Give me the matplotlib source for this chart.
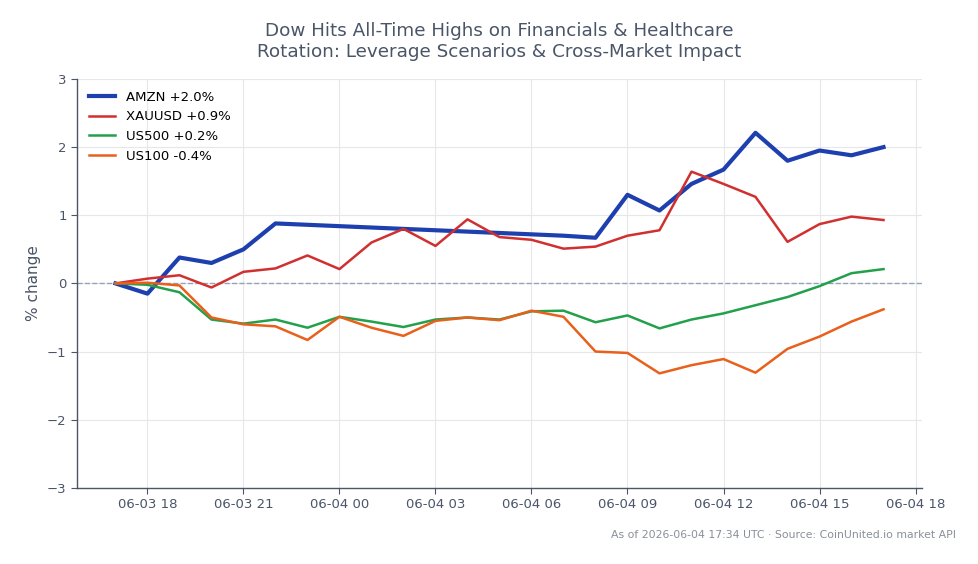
import matplotlib
matplotlib.use("Agg")
import matplotlib.pyplot as plt
import matplotlib.dates as mdates
import numpy as np
import pandas as pd

times = pd.date_range("2026-06-03 17:00", "2026-06-04 17:00", freq="h")

amzn = [0.00, -0.15, 0.38, 0.30, 0.50, 0.88, 0.86, 0.84, 0.82, 0.80, 0.78, 0.76,
        0.74, 0.72, 0.70, 0.67, 1.30, 1.07, 1.46, 1.67, 2.21, 1.80, 1.95, 1.88, 2.00]
xauusd = [0.00, 0.07, 0.12, -0.06, 0.17, 0.22, 0.41, 0.21, 0.60, 0.80, 0.55, 0.94,
          0.68, 0.64, 0.51, 0.54, 0.70, 0.78, 1.64, 1.46, 1.27, 0.61, 0.87, 0.98, 0.93]
us500 = [0.00, -0.02, -0.13, -0.53, -0.59, -0.53, -0.65, -0.49, -0.56, -0.64, -0.53, -0.50,
         -0.53, -0.41, -0.40, -0.57, -0.47, -0.66, -0.53, -0.44, -0.32, -0.20, -0.04, 0.15, 0.21]
us100 = [0.00, 0.01, -0.03, -0.50, -0.60, -0.63, -0.83, -0.49, -0.65, -0.77, -0.55, -0.50,
         -0.54, -0.40, -0.49, -1.00, -1.02, -1.32, -1.20, -1.11, -1.31, -0.96, -0.78, -0.56, -0.38]

labels = ["AMZN +2.0%", "XAUUSD +0.9%", "US500 +0.2%", "US100 -0.4%"]
colors = ["#1e40af", "#d0302f", "#22a04b", "#e8601c"]
widths = [3.0, 1.8, 1.8, 1.8]

fig = plt.figure(figsize=(9.79, 5.64), dpi=100)
ax = fig.add_axes([0.0787, 0.135, 0.863, 0.725])

ax.axhline(0, color="#94a3b8", lw=1, ls="--", zorder=1.5)

for s, lab, c, w in zip([amzn, xauusd, us500, us100], labels, colors, widths):
    ax.plot(times, s, color=c, lw=w, label=lab, zorder=2)

ax.set_ylim(-3, 3)
ax.set_yticks([-3, -2, -1, 0, 1, 2, 3])
ax.set_yticklabels(["\u22123", "\u22122", "\u22121", "0", "1", "2", "3"])
ax.xaxis.set_major_locator(mdates.HourLocator(byhour=[0, 3, 6, 9, 12, 15, 18, 21]))
ax.xaxis.set_major_formatter(mdates.DateFormatter("%m-%d %H"))
ax.margins(x=0.05)

ax.grid(True, color="#e5e7eb", lw=0.8, zorder=0)
ax.set_axisbelow(True)
for sp in ["top", "right"]:
    ax.spines[sp].set_visible(False)
for sp in ["left", "bottom"]:
    ax.spines[sp].set_color("#4a5568")
    ax.spines[sp].set_linewidth(1.0)
ax.tick_params(colors="#4a5568", labelsize=9.5, length=4)
ax.set_ylabel("% change", color="#4a5568", fontsize=11)

ax.set_title("Dow Hits All-Time Highs on Financials & Healthcare\nRotation: Leverage Scenarios & Cross-Market Impact",
             color="#4a5568", fontsize=13.2, pad=16)

leg = ax.legend(loc="upper left", frameon=False, fontsize=9.5)

fig.text(0.976, 0.043, "As of 2026-06-04 17:34 UTC \u00b7 Source: CoinUnited.io market API",
         ha="right", va="bottom", fontsize=7.8, color="#8a8f98")

fig.savefig("out.png", dpi=100)
